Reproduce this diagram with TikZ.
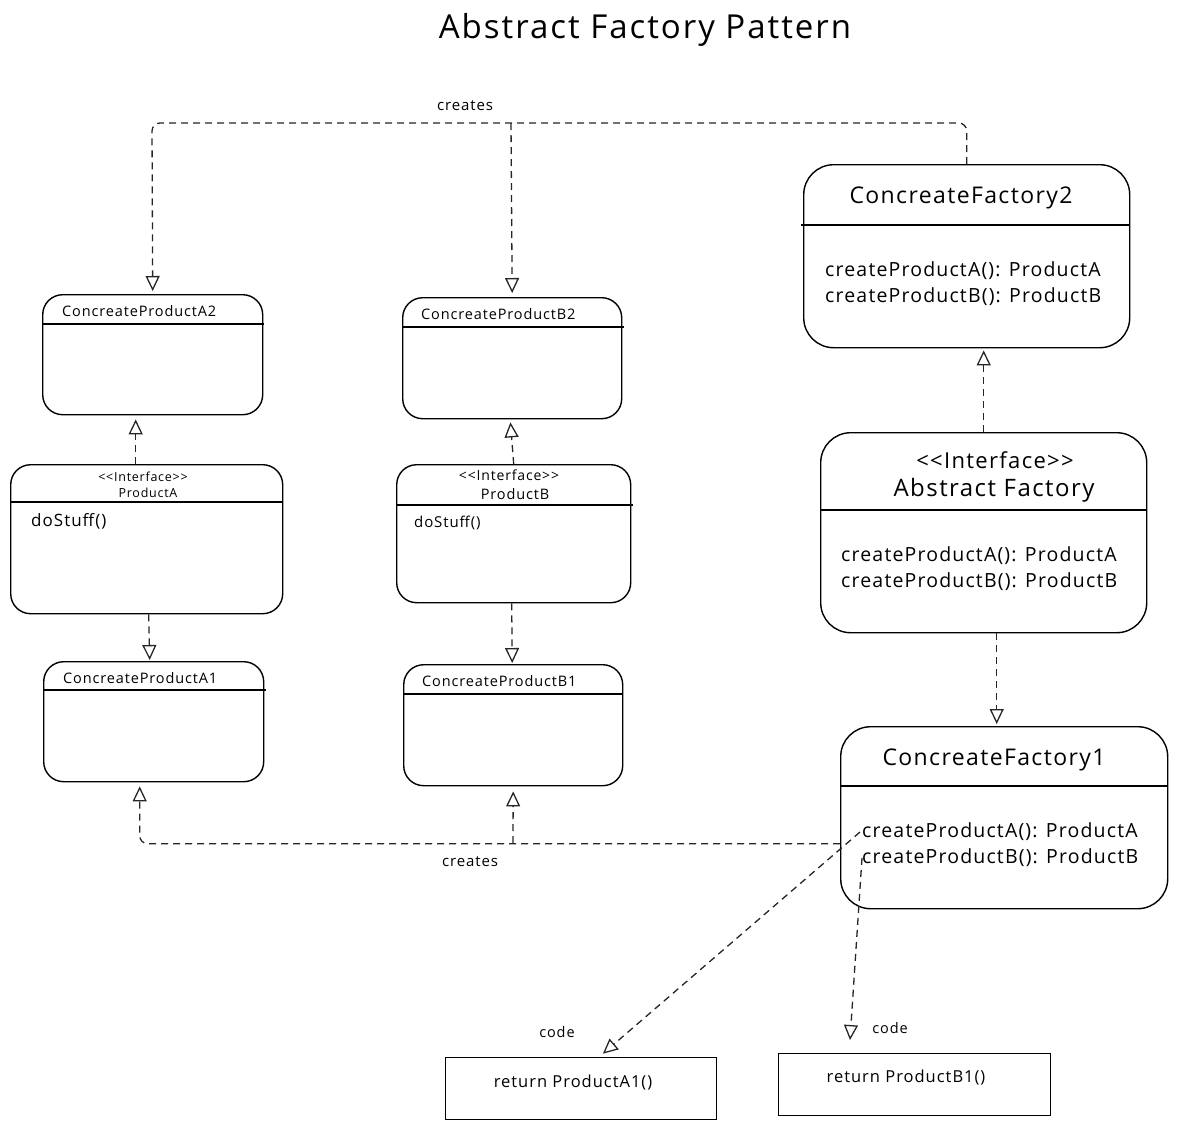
\documentclass[tikz,border=0pt]{standalone}
\usepackage{fontspec}
\setmainfont{Open Sans}[LetterSpace=6]
\usetikzlibrary{arrows.meta,calc}
\newcommand{\ltlt}{{<}{<}}
\newcommand{\gtgt}{{>}{>}}
\tikzset{
  box/.style={draw, line width=1.4pt, rounded corners=20pt, anchor=north west, inner sep=0pt},
  bigbox/.style={box, rounded corners=30pt},
  codebox/.style={draw, line width=1.1pt, anchor=north west, inner sep=0pt},
  divline/.style={line width=1.4pt},
  conn/.style={draw, color=black!85, dash pattern=on 7pt off 5pt, line width=1.3pt, rounded corners=8pt,
    -{Triangle[open, length=15pt, width=14pt, line width=1.3pt]}},
  txt/.style={inner sep=0pt, anchor=west},
  ctxt/.style={inner sep=0pt, anchor=center},
}
\begin{document}
\begin{tikzpicture}[x=1pt,y=-1pt]
\useasboundingbox (0,0) rectangle (1182,1130);

% title
\node[ctxt, font=\fontsize{33}{40}\selectfont] (title) at (645,30) {Abstract Factory Pattern};

% ConcreateProductA2
\node[box, minimum width=220pt, minimum height=120pt] (a2) at (42,294) {};
\draw[divline] ($(a2.north west)+(0,30)$) -- ($(a2.north east)+(1,30)$);
\node[txt, font=\fontsize{14.5}{17}\selectfont] (a2t) at (62,311) {ConcreateProductA2};

% ProductA interface
\node[box, minimum width=272pt, minimum height=149pt] (pa) at (10,464) {};
\draw[divline] ($(pa.north west)+(0,38)$) -- ($(pa.north east)+(0,38)$);
\node[ctxt, font=\fontsize{12.5}{15}\selectfont] (pat1) at (143,477) {\ltlt Interface\gtgt};
\node[ctxt, font=\fontsize{12.5}{15}\selectfont] (pat2) at (148,493) {ProductA};
\node[txt, font=\fontsize{17}{20}\selectfont] (pam) at (31,521) {doStuff()};

% ConcreateProductA1
\node[box, minimum width=220pt, minimum height=120pt] (a1) at (43,661) {};
\draw[divline] ($(a1.north west)+(0,29)$) -- ($(a1.north east)+(2,29)$);
\node[txt, font=\fontsize{14.5}{17}\selectfont] (a1t) at (63,678) {ConcreateProductA1};

% ConcreateProductB2
\node[box, minimum width=219pt, minimum height=121pt] (b2) at (402,297) {};
\draw[divline] ($(b2.north west)+(0,30)$) -- ($(b2.north east)+(2,30)$);
\node[txt, font=\fontsize{14.5}{17}\selectfont] (b2t) at (421,314) {ConcreateProductB2};

% ProductB interface
\node[box, minimum width=234pt, minimum height=138pt] (pb) at (396,464) {};
\draw[divline] ($(pb.north west)+(0,41)$) -- ($(pb.north east)+(2,41)$);
\node[ctxt, font=\fontsize{14}{17}\selectfont] (pbt1) at (509,475) {\ltlt Interface\gtgt};
\node[ctxt, font=\fontsize{14.5}{17}\selectfont] (pbt2) at (515,494) {ProductB};
\node[txt, font=\fontsize{15}{18}\selectfont] (pbm) at (414,523) {doStuff()};

% ConcreateProductB1
\node[box, minimum width=219pt, minimum height=121pt] (b1) at (403,664) {};
\draw[divline] ($(b1.north west)+(0,30)$) -- ($(b1.north east)+(0,30)$);
\node[txt, font=\fontsize{14.5}{17}\selectfont] (b1t) at (422,681) {ConcreateProductB1};

% ConcreateFactory2
\node[bigbox, minimum width=326pt, minimum height=183pt] (cf2) at (803,164) {};
\draw[divline] ($(cf2.north west)+(-2,61)$) -- ($(cf2.north east)+(0,61)$);
\node[ctxt, font=\fontsize{23}{27}\selectfont] (cf2t) at (961,198) {ConcreateFactory2};
\node[txt, font=\fontsize{19.5}{23}\selectfont] (cf2m1) at (825,271) {createProductA(): ProductA};
\node[txt, font=\fontsize{19.5}{23}\selectfont] (cf2m2) at (825,297) {createProductB(): ProductB};

% Abstract Factory
\node[bigbox, minimum width=326pt, minimum height=200pt] (af) at (820,432) {};
\draw[divline] ($(af.north west)+(0,78)$) -- ($(af.north east)+(0,78)$);
\node[ctxt, font=\fontsize{22}{27}\selectfont] (aft1) at (995,460) {\ltlt Interface\gtgt};
\node[ctxt, font=\fontsize{24}{28}\selectfont] (aft2) at (994,490) {Abstract Factory};
\node[txt, font=\fontsize{19.5}{23}\selectfont] (afm1) at (841,556) {createProductA(): ProductA};
\node[txt, font=\fontsize{19.5}{23}\selectfont] (afm2) at (841,582) {createProductB(): ProductB};

% ConcreateFactory1
\node[bigbox, minimum width=327pt, minimum height=182pt] (cf1) at (840,726) {};
\draw[divline] ($(cf1.north west)+(0,60)$) -- ($(cf1.north east)+(0,60)$);
\node[ctxt, font=\fontsize{23}{27}\selectfont] (cf1t) at (994,760) {ConcreateFactory1};
\node[txt, font=\fontsize{19.5}{23}\selectfont] (cf1m1) at (862,832) {createProductA(): ProductA};
\node[txt, font=\fontsize{19.5}{23}\selectfont] (cf1m2) at (862,858) {createProductB(): ProductB};

% code boxes
\node[codebox, minimum width=271pt, minimum height=62pt] (codeA) at (445,1057) {};
\node[ctxt, font=\fontsize{16.5}{19}\selectfont] (codeAt) at (573,1083) {return ProductA1()};
\node[codebox, minimum width=272pt, minimum height=62pt] (codeB) at (778,1053) {};
\node[ctxt, font=\fontsize{16.5}{19}\selectfont] (codeBt) at (906,1078) {return ProductB1()};

% labels
\node[ctxt, font=\fontsize{15}{18}\selectfont] (lcr1) at (465,106) {creates};
\node[ctxt, font=\fontsize{15}{18}\selectfont] (lcr2) at (470,862) {creates};
\node[ctxt, font=\fontsize{14.5}{17}\selectfont] (lcode1) at (557,1032) {code};
\node[ctxt, font=\fontsize{14.5}{17}\selectfont] (lcode2) at (890,1028) {code};

% connectors: ConcreateFactory2 creates products
\coordinate (topL) at (152,123);
\coordinate (topM) at (511,123);
\draw[conn, shorten >=3pt] (cf2.north) |- (topL) -- (a2.north);
\draw[conn, shorten >=4pt] (topM) -- (b2.north);

% interfaces realised by concrete products
\draw[conn, shorten >=4pt] ([xshift=-11pt]pa.north) -- ([xshift=-17pt]a2.south);
\draw[conn, shorten >=1pt] ([xshift=2pt]pa.south) -- ([xshift=-4pt]a1.north);
\draw[conn, shorten >=3pt] (pb.north) -- ([xshift=-2pt]b2.south);
\draw[conn, shorten >=1pt] ([xshift=-2pt]pb.south) -- ([xshift=-1pt]b1.north);

% abstract factory to concrete factories
\draw[conn, shorten >=2pt] (af.north) -- (af.north |- cf2.south);
\draw[conn, shorten >=2pt] ([xshift=13pt]af.south) -- ([xshift=13pt]af.south |- cf1.north);

% ConcreateFactory1 creates products
\coordinate (botM) at (513,843);
\draw[conn, shorten >=4pt] ([yshift=-26pt]cf1.west) -| ([xshift=-14pt]a1.south);
\draw[conn, shorten >=5pt] (botM) -- (b1.south);

% code notes
\coordinate (mA) at (860,832);
\coordinate (mB) at (862,858);
\coordinate (codeBend) at (850,1040);
\draw[conn, shorten >=5pt] (mA) -- ([xshift=18pt]codeA.north);
\draw[conn] (mB) -- (codeBend);
\end{tikzpicture}
\end{document}
